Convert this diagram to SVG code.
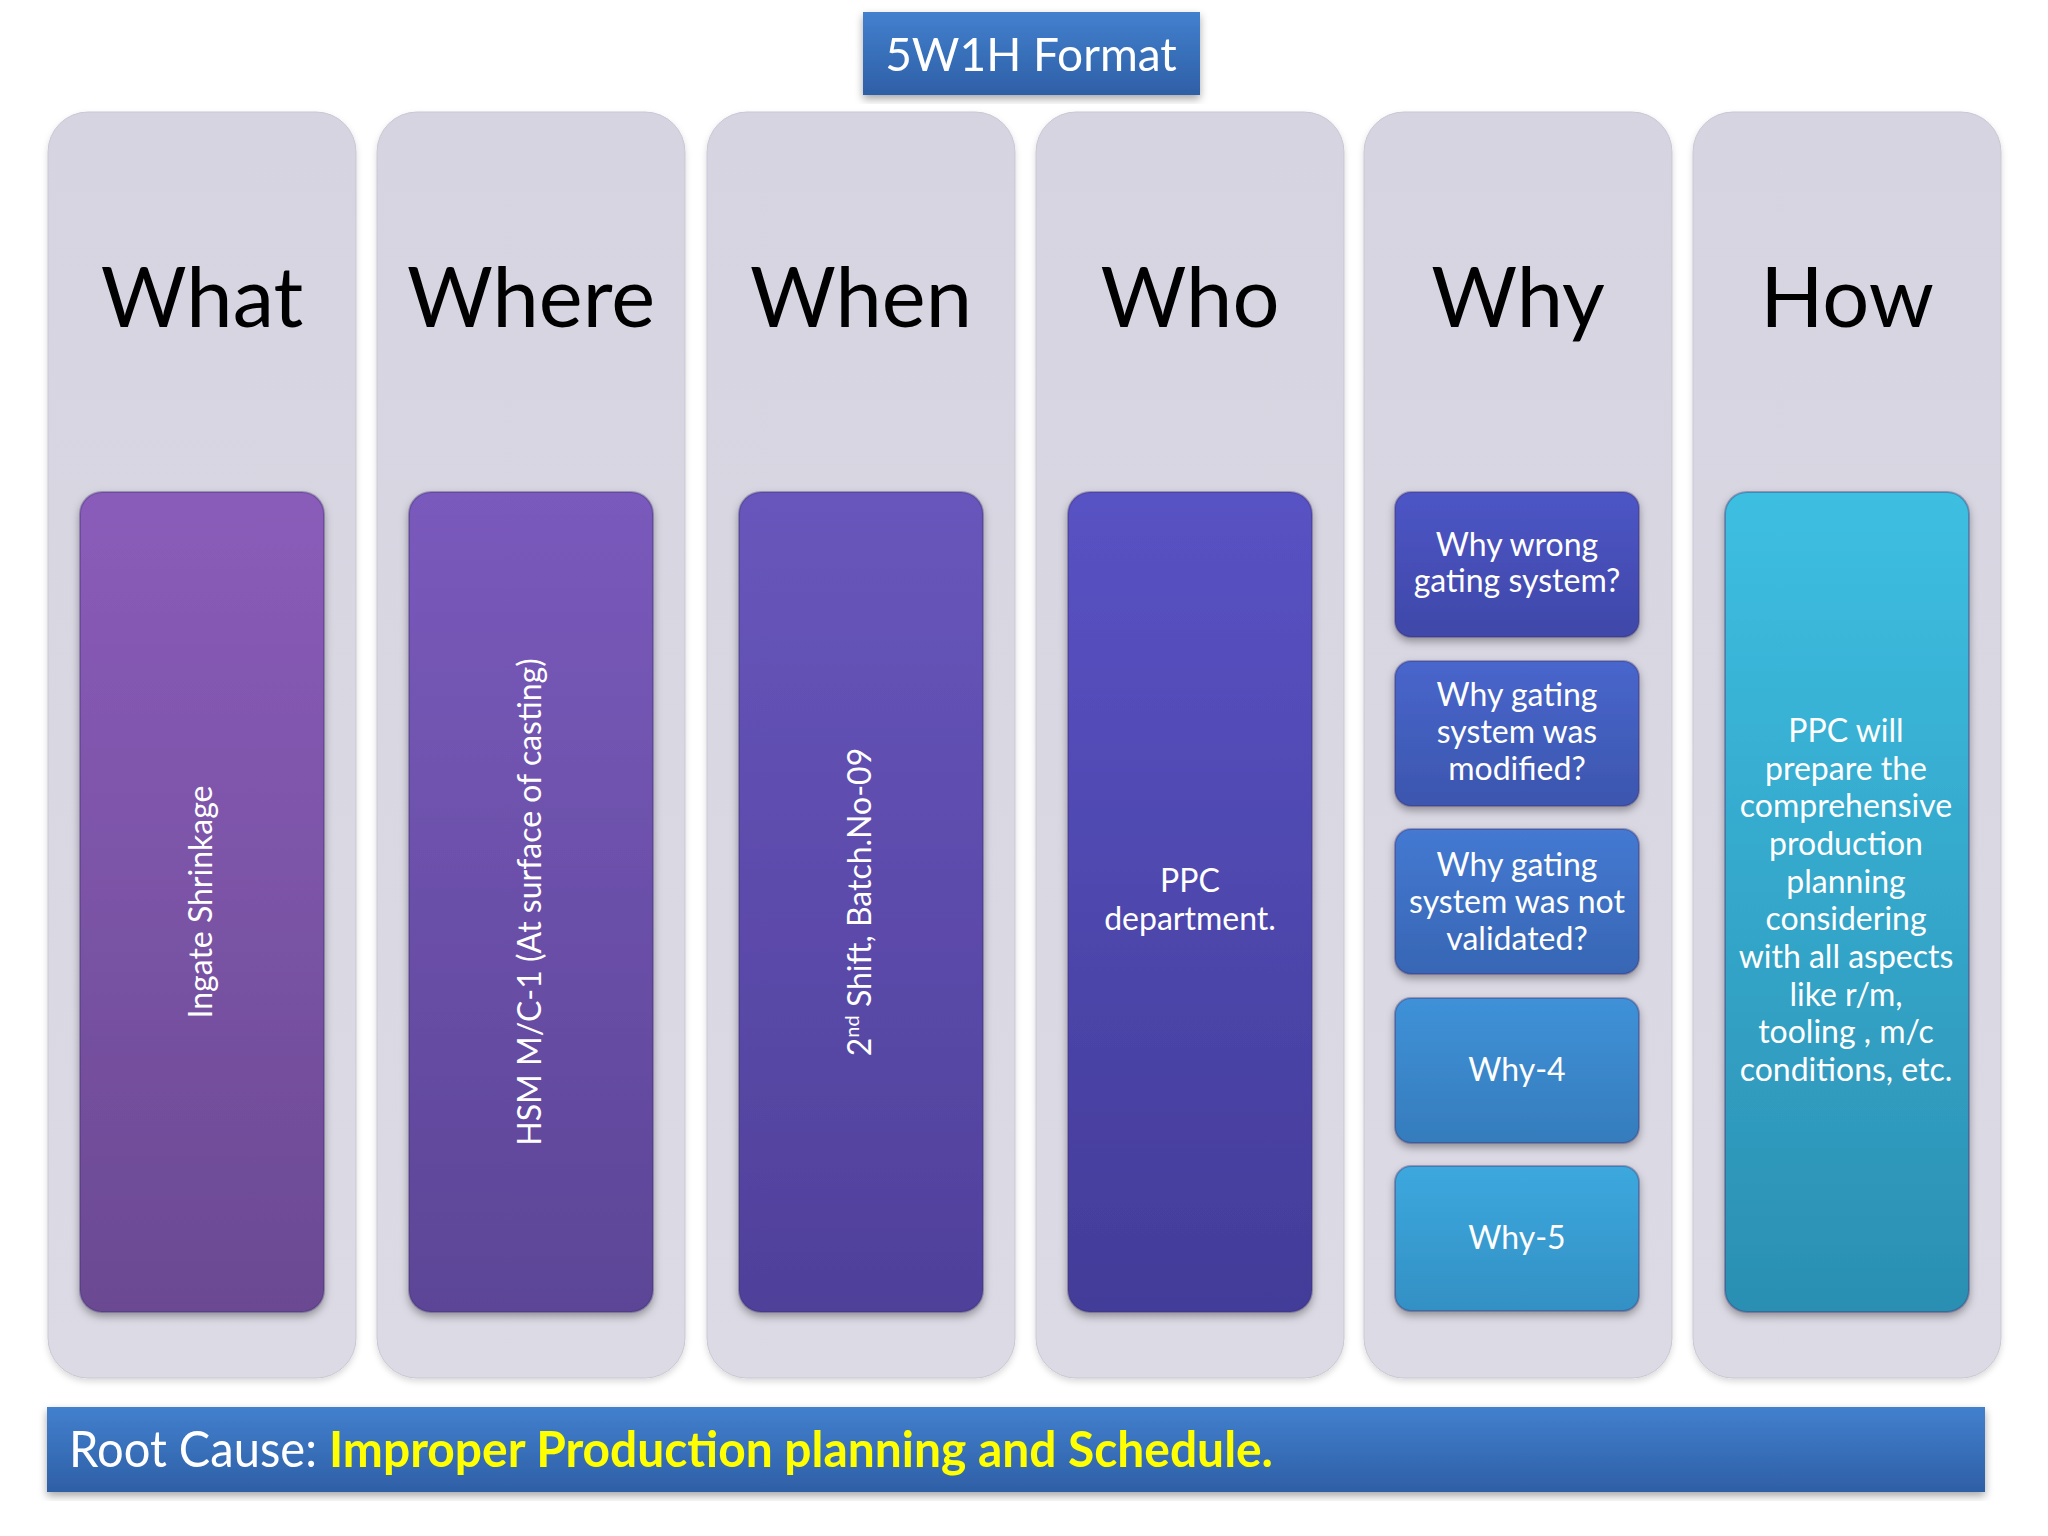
<svg xmlns="http://www.w3.org/2000/svg" width="2048" height="1536" viewBox="0 0 2048 1536">
<defs>
<style>
.col{fill:url(#gCol);stroke:#c9c7d3;stroke-width:1}
.hdr{font-family:Lato,"Open Sans",sans-serif;font-size:83px;fill:#000;text-anchor:middle}
.wt{font-family:Lato,"Open Sans",sans-serif;font-size:32px;fill:#fff;text-anchor:middle}
.box{stroke:#3a2f6e;stroke-opacity:0.35;stroke-width:2}
</style>
<linearGradient id="gCol" x1="0" y1="0" x2="0" y2="1"><stop offset="0" stop-color="#d6d4e0"/><stop offset="1" stop-color="#dcdae4"/></linearGradient>
<linearGradient id="gBlue" x1="0" y1="0" x2="0" y2="1"><stop offset="0" stop-color="#4280ce"/><stop offset="1" stop-color="#2e5fa6"/></linearGradient>
<linearGradient id="g1" x1="0" y1="0" x2="0" y2="1"><stop offset="0" stop-color="#8a5cba"/><stop offset="1" stop-color="#6b4a92"/></linearGradient>
<linearGradient id="g2" x1="0" y1="0" x2="0" y2="1"><stop offset="0" stop-color="#7a5abc"/><stop offset="1" stop-color="#5c4596"/></linearGradient>
<linearGradient id="g3" x1="0" y1="0" x2="0" y2="1"><stop offset="0" stop-color="#6956bc"/><stop offset="1" stop-color="#4f409a"/></linearGradient>
<linearGradient id="g4" x1="0" y1="0" x2="0" y2="1"><stop offset="0" stop-color="#5952c4"/><stop offset="1" stop-color="#433c98"/></linearGradient>
<linearGradient id="w1" x1="0" y1="0" x2="0" y2="1"><stop offset="0" stop-color="#4d55c6"/><stop offset="1" stop-color="#3f48a8"/></linearGradient>
<linearGradient id="w2" x1="0" y1="0" x2="0" y2="1"><stop offset="0" stop-color="#4866cc"/><stop offset="1" stop-color="#3c56ae"/></linearGradient>
<linearGradient id="w3" x1="0" y1="0" x2="0" y2="1"><stop offset="0" stop-color="#4479d2"/><stop offset="1" stop-color="#3766b4"/></linearGradient>
<linearGradient id="w4" x1="0" y1="0" x2="0" y2="1"><stop offset="0" stop-color="#3f91d8"/><stop offset="1" stop-color="#357cbc"/></linearGradient>
<linearGradient id="w5" x1="0" y1="0" x2="0" y2="1"><stop offset="0" stop-color="#3ca8de"/><stop offset="1" stop-color="#3390c4"/></linearGradient>
<linearGradient id="gHow" x1="0" y1="0" x2="0" y2="1"><stop offset="0" stop-color="#3dbfe2"/><stop offset="1" stop-color="#2b8fb2"/></linearGradient>
<filter id="sh" x="-10%" y="-10%" width="120%" height="120%"><feDropShadow dx="0" dy="4" stdDeviation="4" flood-color="#000" flood-opacity="0.35"/></filter>
<filter id="shc" x="-10%" y="-10%" width="120%" height="120%"><feDropShadow dx="0" dy="3" stdDeviation="3" flood-color="#000" flood-opacity="0.15"/></filter>
</defs>
<rect width="2048" height="1536" fill="#fff"/>

<g id="title" filter="url(#sh)">
<rect x="863" y="12" width="337" height="83" fill="url(#gBlue)"/>
<text x="1031" y="71" font-family="Lato,'Open Sans',sans-serif" font-size="46" fill="#fff" text-anchor="middle">5W1H Format</text>
</g>

<g id="col-what">
<rect class="col" x="48" y="112" width="308" height="1266" rx="40" filter="url(#shc)"/>
<text class="hdr" x="202" y="327">What</text>
<rect class="box" x="80" y="492" width="244" height="820" rx="22" fill="url(#g1)" filter="url(#sh)"/>
<text class="wt" transform="translate(202,902) rotate(-90)" x="0" y="10">Ingate Shrinkage</text>
</g>

<g id="col-where">
<rect class="col" x="377" y="112" width="308" height="1266" rx="40" filter="url(#shc)"/>
<text class="hdr" x="531" y="327">Where</text>
<rect class="box" x="409" y="492" width="244" height="820" rx="22" fill="url(#g2)" filter="url(#sh)"/>
<text class="wt" transform="translate(531,902) rotate(-90)" x="0" y="10">HSM M/C-1 (At surface of casting)</text>
</g>

<g id="col-when">
<rect class="col" x="707" y="112" width="308" height="1266" rx="40" filter="url(#shc)"/>
<text class="hdr" x="861" y="327">When</text>
<rect class="box" x="739" y="492" width="244" height="820" rx="22" fill="url(#g3)" filter="url(#sh)"/>
<text class="wt" transform="translate(861,902) rotate(-90)" x="0" y="10">2<tspan dy="-12" font-size="20">nd</tspan><tspan dy="12"> Shift, Batch.No-09</tspan></text>
</g>

<g id="col-who">
<rect class="col" x="1036" y="112" width="308" height="1266" rx="40" filter="url(#shc)"/>
<text class="hdr" x="1190" y="327">Who</text>
<rect class="box" x="1068" y="492" width="244" height="820" rx="22" fill="url(#g4)" filter="url(#sh)"/>
<text class="wt" x="1190" y="892">PPC</text>
<text class="wt" x="1190" y="930">department.</text>
</g>

<g id="col-why">
<rect class="col" x="1364" y="112" width="308" height="1266" rx="40" filter="url(#shc)"/>
<text class="hdr" x="1518" y="327">Why</text>
<g id="why1">
<rect class="box" x="1395" y="492" width="244" height="145" rx="16" fill="url(#w1)" filter="url(#sh)"/>
<text class="wt" x="1517" y="556">Why wrong</text>
<text class="wt" x="1517" y="592">gating system?</text>
</g>
<g id="why2">
<rect class="box" x="1395" y="661" width="244" height="145" rx="16" fill="url(#w2)" filter="url(#sh)"/>
<text class="wt" x="1517" y="706">Why gating</text>
<text class="wt" x="1517" y="743">system was</text>
<text class="wt" x="1517" y="780">modified?</text>
</g>
<g id="why3">
<rect class="box" x="1395" y="829" width="244" height="145" rx="16" fill="url(#w3)" filter="url(#sh)"/>
<text class="wt" x="1517" y="876">Why gating</text>
<text class="wt" x="1517" y="913">system was not</text>
<text class="wt" x="1517" y="950">validated?</text>
</g>
<g id="why4">
<rect class="box" x="1395" y="998" width="244" height="145" rx="16" fill="url(#w4)" filter="url(#sh)"/>
<text class="wt" x="1517" y="1081">Why-4</text>
</g>
<g id="why5">
<rect class="box" x="1395" y="1166" width="244" height="145" rx="16" fill="url(#w5)" filter="url(#sh)"/>
<text class="wt" x="1517" y="1249">Why-5</text>
</g>
</g>

<g id="col-how">
<rect class="col" x="1693" y="112" width="308" height="1266" rx="40" filter="url(#shc)"/>
<text class="hdr" x="1847" y="327">How</text>
<rect class="box" x="1725" y="492" width="244" height="820" rx="22" fill="url(#gHow)" filter="url(#sh)"/>
<text class="wt" x="1846" y="742">PPC will</text>
<text class="wt" x="1846" y="780">prepare the</text>
<text class="wt" x="1846" y="817">comprehensive</text>
<text class="wt" x="1846" y="855">production</text>
<text class="wt" x="1846" y="893">planning</text>
<text class="wt" x="1846" y="930">considering</text>
<text class="wt" x="1846" y="968">with all aspects</text>
<text class="wt" x="1846" y="1006">like r/m,</text>
<text class="wt" x="1846" y="1043">tooling , m/c</text>
<text class="wt" x="1846" y="1081">conditions, etc.</text>
</g>

<g id="root-cause" filter="url(#sh)">
<rect x="47" y="1407" width="1938" height="85" fill="url(#gBlue)"/>
<text x="69" y="1467" font-family="Lato,'Open Sans',sans-serif" font-size="50" fill="#fff" textLength="248" lengthAdjust="spacingAndGlyphs">Root Cause:</text>
<text x="329" y="1467" font-family="Lato,'Open Sans',sans-serif" font-size="50" font-weight="bold" fill="#ffff00" textLength="944" lengthAdjust="spacingAndGlyphs">Improper Production planning and Schedule.</text>
</g>
</svg>
